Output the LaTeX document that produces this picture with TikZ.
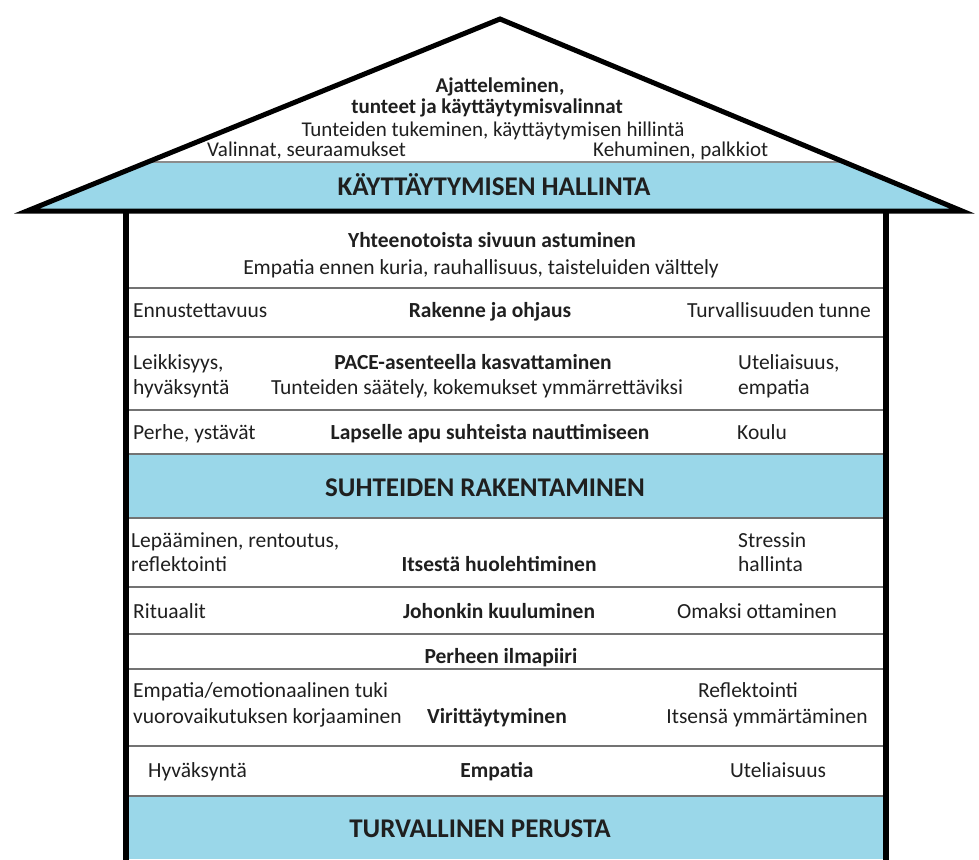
\documentclass[tikz,border=0pt]{standalone}
\usepackage{fontspec}
\setmainfont{Carlito}
\begin{document}
\begin{tikzpicture}[x=1pt,y=-1pt,
  txt/.style={inner sep=0pt, yshift=-3.5pt, text=black!88, font=\fontsize{21.5}{25}\selectfont, text height=1.5ex, text depth=.3ex},
  bt/.style={txt, font=\fontsize{21.5}{25}\selectfont\bfseries},
  ht/.style={txt, font=\fontsize{27}{31}\selectfont\bfseries},
  lt/.style={txt, anchor=west},
  rt/.style={txt, anchor=east},
  rooftxt/.style={txt, font=\fontsize{21}{24}\selectfont},
  roofbold/.style={txt, font=\fontsize{21}{24}\selectfont\bfseries},
  sep/.style={draw=black!55, line width=2pt},
  wall/.style={draw=black, line width=6pt},
  roofline/.style={draw=black, line width=5pt, line join=miter}]
\definecolor{hblue}{RGB}{154,215,233}
\useasboundingbox (0,0) rectangle (979,859);
% ---------- roof ----------
\coordinate (apex) at (500,19);
\coordinate (rl) at (27,211);
\coordinate (rr) at (962,211);
\begin{scope}
  \clip (rl) -- (apex) -- (rr) -- cycle;
  \fill[hblue] (0,162) rectangle (979,212);
  \draw[draw=black!45, line width=1.5pt] (0,162) -- (979,162);
\end{scope}
\draw[roofline] (rl) -- (apex) -- (rr) -- cycle;
% ---------- body ----------
\fill[white] (129,214) rectangle (883,859);
\fill[hblue] (129,454) rectangle (883,518);
\fill[hblue] (129,796) rectangle (883,859);
\coordinate (s1l) at (129,288); \coordinate (s1r) at (883,288);
\coordinate (s2l) at (129,337); \coordinate (s2r) at (883,337);
\coordinate (s3l) at (129,410); \coordinate (s3r) at (883,410);
\coordinate (s4l) at (129,454); \coordinate (s4r) at (883,454);
\coordinate (s5l) at (129,518); \coordinate (s5r) at (883,518);
\coordinate (s6l) at (129,587); \coordinate (s6r) at (883,587);
\coordinate (s7l) at (129,634); \coordinate (s7r) at (883,634);
\coordinate (s8l) at (129,669); \coordinate (s8r) at (883,669);
\coordinate (s9l) at (129,746); \coordinate (s9r) at (883,746);
\coordinate (s10l) at (129,796); \coordinate (s10r) at (883,796);
\foreach \i in {1,...,10} {\draw[sep] (s\i l) -- (s\i r);}
\coordinate (wlt) at (126,211); \coordinate (wlb) at (126,862);
\coordinate (wrt) at (885.5,211); \coordinate (wrb) at (885.5,862);
\draw[wall] (wlt) -- (wlb);
\draw[wall] (wrt) -- (wrb);
% ---------- roof texts ----------
\node[roofbold] (r1) at (500,86) {Ajatteleminen,};
\node[roofbold] (r2) at (487,107.5) {tunteet ja käyttäytymisvalinnat};
\node[rooftxt] (r3) at (493,130) {Tunteiden tukeminen, käyttäytymisen hillintä};
\node[rooftxt, anchor=west] (r4) at (207,150) {Valinnat, seuraamukset};
\node[rooftxt, anchor=west] (r5) at (593,150) {Kehuminen, palkkiot};
\node[ht] (r6) at (494,189) {KÄYTTÄYTYMISEN HALLINTA};
% ---------- row 1 ----------
\node[bt] (a1) at (492,241) {Yhteenotoista sivuun astuminen};
\node[txt] (a2) at (481,268) {Empatia ennen kuria, rauhallisuus, taisteluiden välttely};
% ---------- row 2 ----------
\node[lt] (b1) at (133,311) {Ennustettavuus};
\node[bt] (b2) at (490,311) {Rakenne ja ohjaus};
\node[rt] (b3) at (871,311) {Turvallisuuden tunne};
% ---------- row 3 ----------
\node[lt] (c1) at (133,363) {Leikkisyys,};
\node[lt] (c2) at (133,388) {hyväksyntä};
\node[bt] (c3) at (473,363) {PACE-asenteella kasvattaminen};
\node[txt] (c4) at (477,388) {Tunteiden säätely, kokemukset ymmärrettäviksi};
\node[lt] (c5) at (738,363) {Uteliaisuus,};
\node[lt] (c6) at (738,388) {empatia};
% ---------- row 4 ----------
\node[lt] (d1) at (133,433) {Perhe, ystävät};
\node[bt] (d2) at (490,433) {Lapselle apu suhteista nauttimiseen};
\node[lt] (d3) at (737,433) {Koulu};
% ---------- band ----------
\node[ht] (e1) at (485,490) {SUHTEIDEN RAKENTAMINEN};
% ---------- row 5 ----------
\node[lt] (f1) at (131,541) {Lepääminen, rentoutus,};
\node[lt] (f2) at (131,565) {reflektointi};
\node[bt] (f3) at (499,565) {Itsestä huolehtiminen};
\node[lt] (f4) at (738,541) {Stressin};
\node[lt] (f5) at (738,565) {hallinta};
% ---------- row 6 ----------
\node[lt] (g1) at (133,612) {Rituaalit};
\node[bt] (g2) at (499,612) {Johonkin kuuluminen};
\node[txt] (g3) at (757,612) {Omaksi ottaminen};
% ---------- row 7 ----------
\node[bt] (h1) at (501,657) {Perheen ilmapiiri};
% ---------- row 8 ----------
\node[lt] (i1) at (133,691) {Empatia/emotionaalinen tuki};
\node[lt] (i2) at (133,717) {vuorovaikutuksen korjaaminen};
\node[bt] (i3) at (497,717) {Virittäytyminen};
\node[txt] (i4) at (748,691) {Reflektointi};
\node[txt] (i5) at (767,717) {Itsensä ymmärtäminen};
% ---------- row 9 ----------
\node[lt] (j1) at (148,771) {Hyväksyntä};
\node[bt] (j2) at (497,771) {Empatia};
\node[txt] (j3) at (778,771) {Uteliaisuus};
% ---------- band ----------
\node[ht] (k1) at (480,831) {TURVALLINEN PERUSTA};
\end{tikzpicture}
\end{document}
